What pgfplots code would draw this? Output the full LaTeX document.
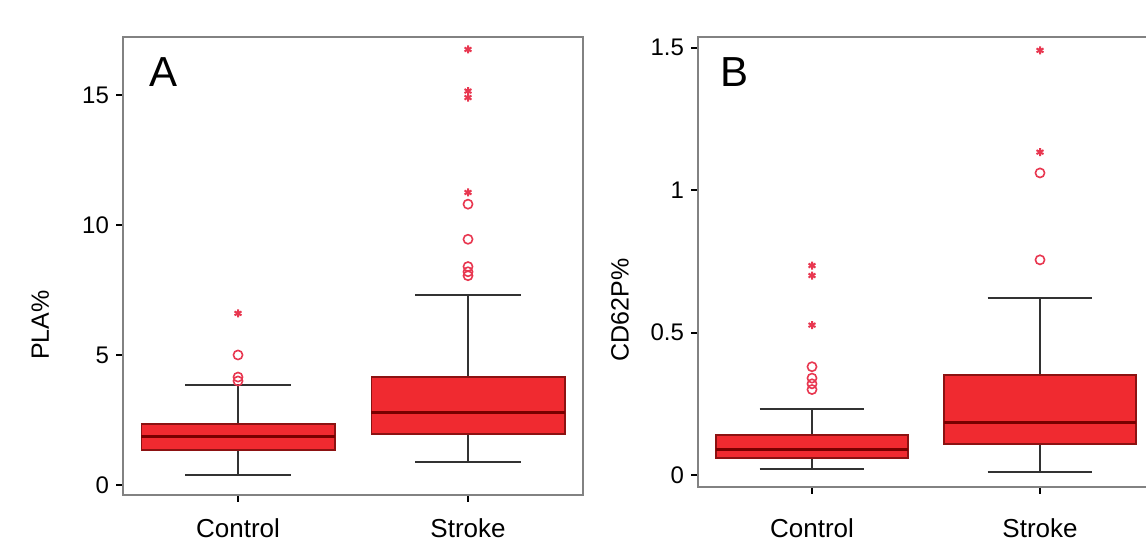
\documentclass[border=0pt]{standalone}
\usepackage{fontspec}
\setmainfont{Liberation Sans}
\usepackage{pgfplots}
\pgfplotsset{compat=1.18}
\usepgfplotslibrary{statistics}

\definecolor{boxred}{RGB}{240,42,48}
\definecolor{boxedge}{RGB}{140,18,18}
\definecolor{medline}{RGB}{120,0,0}
\definecolor{whisk}{RGB}{50,50,50}
\definecolor{outl}{RGB}{232,55,80}
\definecolor{frame}{RGB}{130,130,130}

\pgfplotsset{
  panel/.style={
    scale only axis,
    anchor=south west,
    xmin=0.5, xmax=2.5,
    xtick={1,2}, xticklabels={Control,Stroke},
    xtick pos=bottom, ytick pos=left,
    tick align=outside,
    major tick length=3.5pt,
    tick style={black, line width=1pt},
    axis line style={draw=frame, line width=1pt},
    /pgf/number format/assume math mode=true,
    yticklabel style={font=\fontsize{12}{14}\selectfont},
    xticklabel style={font=\fontsize{13}{15}\selectfont, yshift=-5pt},
    ylabel style={font=\fontsize{12.5}{15}\selectfont, anchor=center},
    boxplot/draw direction=y,
    boxplot/box extend=0.84,
    boxplot/whisker extend=0.46,
    boxplot/every box/.style={draw=boxedge, fill=boxred, line width=0.9pt},
    boxplot/every median/.style={draw=medline, line width=1.5pt},
    boxplot/every whisker/.style={draw=whisk, line width=1pt},
  },
  circ/.style={only marks, mark=o, mark size=2.3pt, mark options={draw=outl, line width=0.8pt}},
  star/.style={only marks, mark=asterisk, mark size=2pt, mark options={draw=outl, line width=1pt}},
}

\begin{document}
\begin{tikzpicture}
\useasboundingbox (0,0) rectangle (573pt,272pt);

% panel A
\begin{axis}[panel,
  at={(61.5pt,24.5pt)}, width=230pt, height=229pt,
  ymin=-0.385, ymax=17.23,
  ytick={0,5,10,15},
  ylabel={PLA\%},
  ylabel style={at={(axis description cs:-0.18,0.371)}},
]
  \addplot[boxplot prepared={draw position=1,
    lower whisker=0.38, lower quartile=1.35, median=1.85,
    upper quartile=2.35, upper whisker=3.85}] coordinates {};
  \addplot[boxplot prepared={draw position=2,
    lower whisker=0.88, lower quartile=1.96, median=2.8,
    upper quartile=4.15, upper whisker=7.3}] coordinates {};
  \addplot[circ] coordinates {(1,4.0) (1,4.15) (1,5.0)
    (2,8.05) (2,8.2) (2,8.4) (2,9.45) (2,10.8)};
  \addplot[star] coordinates {(1,6.6)
    (2,11.25) (2,14.9) (2,15.15) (2,16.75)};
  \node[font=\fontsize{21}{24}\selectfont] at (axis description cs:0.087,0.924) {A};
\end{axis}

% panel B
\begin{axis}[panel,
  at={(349pt,28.5pt)}, width=228pt, height=225pt,
  ymin=-0.042, ymax=1.537,
  ytick={0,0.5,1,1.5},
  ylabel={CD62P\%},
  xticklabel style={yshift=-4pt},
  ylabel style={at={(axis description cs:-0.171,0.393)}},
]
  \addplot[boxplot prepared={draw position=1,
    lower whisker=0.02, lower quartile=0.06, median=0.09,
    upper quartile=0.14, upper whisker=0.23}] coordinates {};
  \addplot[boxplot prepared={draw position=2,
    lower whisker=0.01, lower quartile=0.11, median=0.186,
    upper quartile=0.35, upper whisker=0.62}] coordinates {};
  \addplot[circ] coordinates {(1,0.30) (1,0.32) (1,0.34) (1,0.38)
    (2,0.755) (2,1.06)};
  \addplot[star] coordinates {(1,0.526) (1,0.70) (1,0.735)
    (2,1.133) (2,1.49)};
  \node[font=\fontsize{21}{24}\selectfont] at (axis description cs:0.081,0.922) {B};
\end{axis}
\end{tikzpicture}
\end{document}
